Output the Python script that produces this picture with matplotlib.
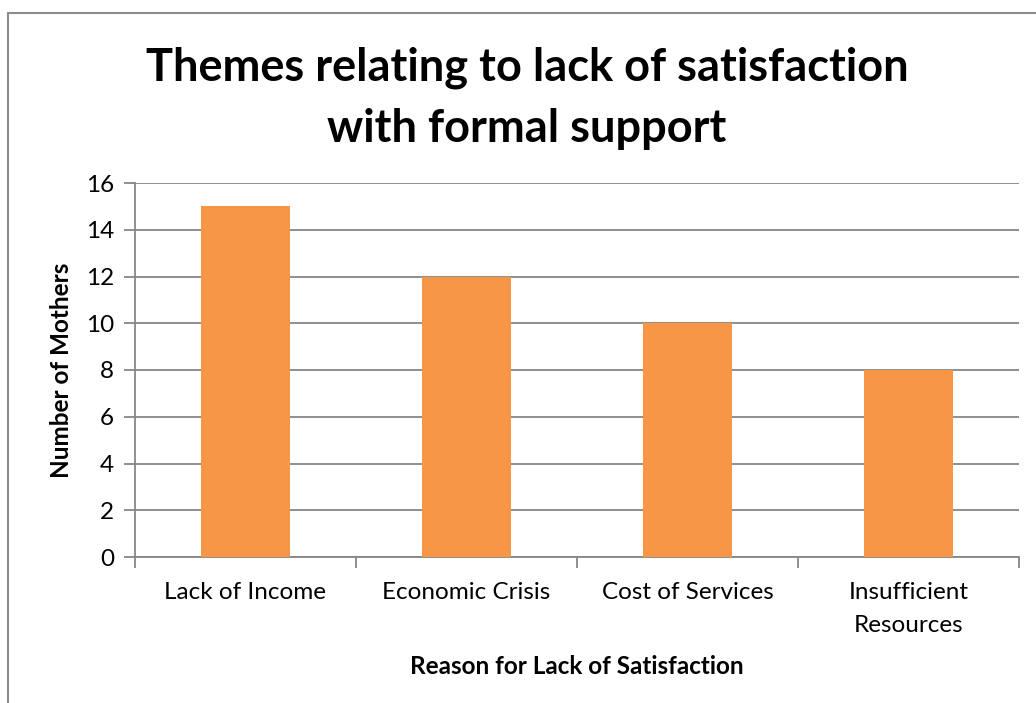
import matplotlib.pyplot as plt
from matplotlib.patches import Rectangle

reasons = ['Lack of Income', 'Economic Crisis', 'Cost of Services', 'Insufficient\nResources']
mothers = [15, 12, 10, 8]

plt.rcParams['font.family'] = ['Lato', 'DejaVu Sans']

fig = plt.figure(figsize=(10.36, 7.03), dpi=100)
ax = fig.add_axes([135 / 1036, 1 - 557 / 703, 884 / 1036, 374 / 703])

grid_col = '#868686'
x = range(len(reasons))
ax.bar(x, mothers, width=0.4, color='#F79646', zorder=3)

ax.set_xlim(-0.5, len(reasons) - 0.5)
ax.set_ylim(0, 16)
ax.set_yticks(range(0, 17, 2))
ax.yaxis.grid(True, color=grid_col, linewidth=1.3, zorder=0)

# category labels sit between boundary ticks
ax.set_xticks([i - 0.5 for i in range(len(reasons) + 1)])
ax.set_xticklabels([])
ax.set_xticks(list(x), minor=True)
ax.set_xticklabels(reasons, minor=True, fontsize=17.5, linespacing=1.7)
ax.tick_params(axis='x', which='minor', length=0, pad=18)
ax.tick_params(axis='x', which='major', length=8, color=grid_col, width=1.3)
ax.tick_params(axis='y', length=8, color=grid_col, width=1.3, labelsize=17.5, pad=7)

for side in ['top', 'right']:
    ax.spines[side].set_visible(False)
for side in ['left', 'bottom']:
    ax.spines[side].set_color(grid_col)
    ax.spines[side].set_linewidth(1.3)

ax.set_xlabel('Reason for Lack of Satisfaction', fontsize=17.5, fontweight='bold', labelpad=14)
ax.set_ylabel('Number of Mothers', fontsize=17.5, fontweight='bold', labelpad=9)

fig.text(527 / 1036, 1 - 98 / 703, 'Themes relating to lack of satisfaction\nwith formal support',
         ha='center', va='center', fontsize=32.5, fontweight='bold', linespacing=1.55)

# chart area outline
fig.patches.append(Rectangle((8 / 1036, -0.05), 1.1, 1 - 13 / 703 + 0.05,
                             transform=fig.transFigure, fill=False,
                             edgecolor='#8c8c8c', linewidth=1.5))

fig.savefig('out.png', dpi=100)
